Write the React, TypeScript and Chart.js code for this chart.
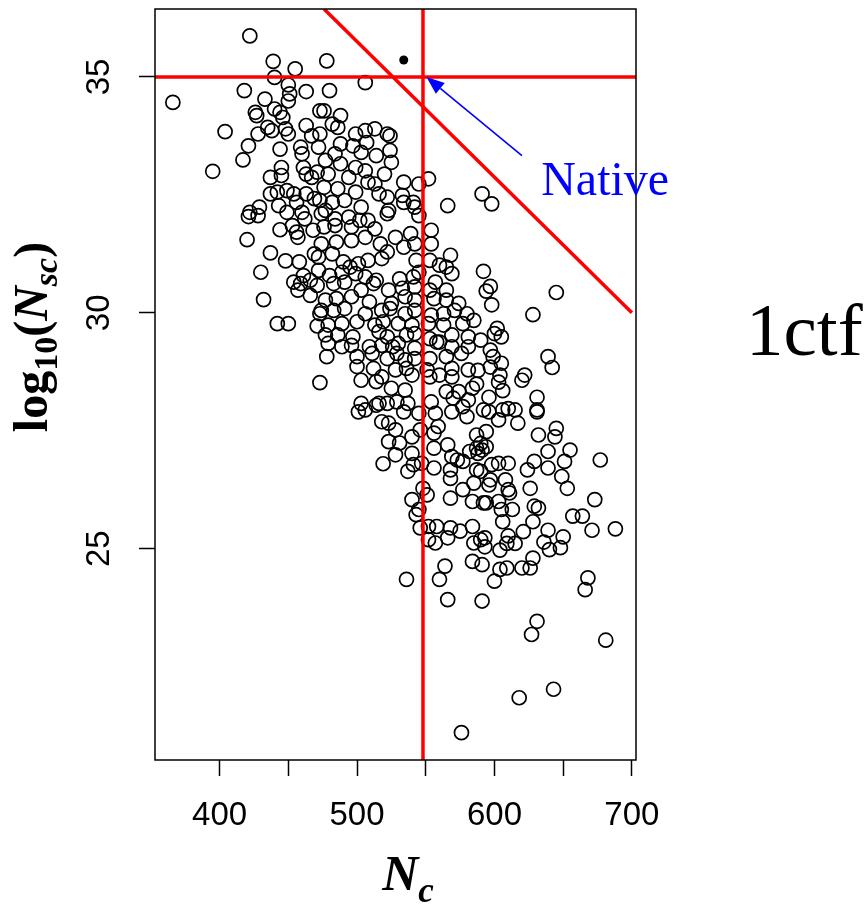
import React, { useEffect, useRef } from "react";
import { Chart, registerables } from "chart.js";

Chart.register(...registerables);

// Decoy structures: [Nc, log10(Nsc)]
const decoyPoints: [number, number][] = [
  [422,35.87],[439,35.33],[455,35.17],[440,34.99],[450,34.83],[418,34.71],[463,34.69],[366,34.46],[451,34.64],[450,34.49],
  [433,34.53],[426,34.25],[427,34.18],[440,34.32],[444,34.25],[446,34.14],[473,34.28],[404,33.84],[428,33.79],[435,33.93],
  [438,33.86],[448,33.90],[450,33.79],[463,33.97],[467,33.75],[421,33.54],[444,33.47],[459,33.51],[460,33.37],[417,33.24],
  [395,33.00],[437,32.87],[445,33.08],[445,32.91],[461,33.08],[463,32.94],[467,32.87],[437,32.52],[442,32.56],[449,32.59],
  [454,32.52],[456,32.34],[463,32.52],[469,32.42],[443,32.27],[429,32.24],[422,32.13],[460,32.13],[449,32.13],
  [478,35.34],[506,34.88],[480,34.71],[476,34.28],[488,34.18],[482,34.00],[486,33.93],[473,33.79],[499,33.79],[506,33.86],
  [513,33.90],[522,33.79],[524,33.75],[472,33.51],[488,33.58],[497,33.54],[507,33.61],[524,33.44],[503,33.40],[484,33.37],
  [477,33.23],[488,33.16],[514,33.33],[525,33.19],[499,33.08],[506,33.01],[520,32.94],[471,32.98],[479,32.94],[494,32.87],
  [508,32.77],[513,32.73],[534,32.77],[552,32.84],[545,32.73],[476,32.66],[486,32.63],[499,32.56],[516,32.52],[522,32.45],
  [533,32.49],[534,32.34],[541,32.34],[542,32.24],[566,32.27],[473,32.38],[482,32.34],[491,32.38],[503,32.24],[523,32.17],
  [477,32.17],[591,32.52],[598,32.31],
  [421,32.04],[428,32.06],[444,31.76],[453,31.85],[456,31.71],[457,31.60],[462,31.99],[468,31.75],[420,31.55],[437,31.27],
  [448,31.10],[458,31.08],[469,31.25],[430,30.86],[454,30.65],[459,30.62],[461,30.79],[466,30.69],[457,30.48],[466,30.37],
  [471,30.58],[472,30.90],[432,30.28],[442,29.77],[450,29.77],[471,29.72],[473,29.98],[473,28.52],
  [474,32.10],[484,31.99],[494,32.03],[502,31.96],[508,31.96],[522,32.10],[545,32.06],[476,31.82],[484,31.85],[496,31.82],
  [513,31.78],[528,31.60],[539,31.68],[554,31.75],[474,31.46],[485,31.50],[496,31.53],[506,31.60],[517,31.46],[534,31.39],
  [542,31.46],[554,31.46],[472,31.18],[482,31.25],[490,31.08],[495,30.97],[501,31.04],[508,31.11],[518,31.15],[522,31.29],
  [543,31.11],[553,31.11],[560,31.01],[568,31.22],[565,30.97],[480,30.79],[489,30.86],[499,30.83],[506,30.76],[514,30.69],
  [531,30.72],[541,30.76],[545,30.86],[557,30.65],[569,30.83],[483,30.62],[491,30.65],[503,30.48],[512,30.62],[523,30.48],
  [533,30.52],[542,30.55],[553,30.48],[565,30.48],[477,30.27],[485,30.30],[496,30.34],[509,30.23],[525,30.20],[535,30.34],
  [542,30.27],[556,30.30],[565,30.27],[574,30.20],[474,30.05],[483,30.05],[491,30.09],[506,29.98],[518,30.05],[524,30.09],
  [535,29.98],[542,30.05],[554,29.95],[563,29.98],[571,30.05],[580,29.98],[479,29.74],[489,29.77],[500,29.81],[513,29.74],
  [519,29.81],[530,29.77],[540,29.74],[552,29.77],[563,29.74],[577,29.77],[585,29.84],[477,29.53],[486,29.53],[497,29.49],
  [516,29.60],[522,29.49],[536,29.53],[542,29.56],[553,29.45],[558,29.38],[560,29.38],[569,29.53],[581,29.49],[479,29.35],
  [489,29.28],[496,29.31],[509,29.28],[518,29.31],[526,29.28],[530,29.35],[542,29.25],[569,29.28],[581,29.28],[478,29.07],
  [500,29.07],[511,29.14],[522,29.03],[529,29.14],[535,29.00],[542,29.03],[553,29.03],[565,29.07],[576,29.14],[500,28.86],
  [512,28.82],[518,28.64],[528,28.79],[536,28.82],[540,28.68],[551,28.79],[553,28.64],[560,28.68],[569,28.82],[569,28.64],
  [581,28.79],[503,28.57],[514,28.54],[525,28.40],[535,28.36],[565,28.33],[574,28.33],[584,28.40],[503,28.08],[516,28.08],
  [529,28.11],[537,28.08],[554,28.11],[570,28.19],[581,28.15],
  [592,30.88],[597,30.56],[594,30.46],[598,30.17],[645,30.43],[628,29.96],[602,29.67],[600,29.56],[605,29.49],[590,29.42],
  [597,29.21],[599,29.07],[605,28.93],[597,28.85],[604,28.68],[639,29.07],[642,28.84],[622,28.68],[620,28.57],[588,28.78],
  [587,28.49],[603,28.53],[606,28.35],[631,28.21],[596,28.21],
  [501,27.90],[506,27.94],[514,28.04],[522,28.08],[534,27.90],[545,27.87],[557,27.87],[569,27.90],[577,28.01],[580,27.80],
  [592,27.94],[518,27.69],[523,27.66],[528,27.52],[559,27.59],[546,27.52],[540,27.37],[556,27.45],[587,27.41],[523,27.27],
  [531,27.24],[540,27.02],[556,27.13],[566,27.20],[569,26.95],[573,26.88],[577,26.85],[582,27.06],[587,27.13],[591,27.09],
  [528,26.99],[519,26.80],[537,26.64],[541,26.78],[547,26.81],[556,26.71],[568,26.67],[568,26.49],[587,26.67],[577,26.25],
  [585,26.39],[548,26.28],[551,26.14],[568,26.07],[584,26.00],[592,25.97],[540,26.04],[545,25.83],[543,25.72],[546,25.44],
  [552,25.47],[558,25.47],[568,25.44],[575,25.37],[584,25.47],[552,25.19],[557,25.12],[566,25.23],[585,25.12],[590,25.19],
  [584,24.73],[564,24.63],[560,24.35],[536,24.35],
  [596,27.90],[603,27.73],[606,27.94],[610,27.97],[615,27.94],[617,27.66],[631,27.94],[631,27.90],[632,27.41],[644,27.37],
  [645,27.55],[594,27.48],[590,27.23],[594,27.16],[588,27.02],[639,27.06],[655,27.09],[629,26.85],[624,26.67],[639,26.71],
  [651,26.85],[649,26.53],[653,26.28],[677,26.88],[598,26.78],[603,26.81],[610,26.81],[590,26.64],[597,26.46],[596,26.35],
  [608,26.46],[610,26.25],[611,26.18],[626,26.28],[594,25.97],[603,26.00],[613,25.83],[605,25.83],[629,25.90],[632,25.86],
  [673,26.04],[657,25.69],[664,25.69],[606,25.57],[628,25.57],[621,25.36],[639,25.39],[650,25.25],[671,25.39],[688,25.42],
  [593,25.23],[610,25.27],[593,25.04],[604,24.97],[609,25.11],[615,25.11],[636,25.14],[640,24.98],[648,25.02],[628,24.80],
  [620,24.59],[626,24.59],[591,24.66],[604,24.56],[609,24.59],[600,24.31],[668,24.38],[666,24.13],
  [566,23.92],[591,23.89],[631,23.46],[627,23.18],[681,23.06],[643,22.02],[618,21.84],[576,21.10],
];

// Native structure and cut-off lines
const nativeNc = 534;
const nativeLogNsc = 35.36;
const cutoffNc = 548;
const cutoffLogNsc = 35;
const diagonalNc = [476, 700];
const diagonalLogNsc = [36.44, 30];
const arrowNc = [620, 550.5];
const arrowLogNsc = [33.33, 35.0];
const nativeLabelPos = [634, 32.49];

// Axes
const xRange = [353, 703];
const yRange = [20.52, 36.44];
const xTickValues = [400, 450, 500, 550, 600, 650, 700];
const xTickLabels = ["400", "", "500", "", "600", "", "700"];
const yTickValues = [25, 30, 35];
const yTickLabels = ["25", "30", "35"];

const SANS = '"Liberation Sans", Arial, Helvetica, sans-serif';
const SERIF = '"Liberation Serif", "Times New Roman", serif';

function drawRuns(ctx: CanvasRenderingContext2D, runs: { t: string; font: string; dy: number }[], measureOnly: boolean) {
  let w = 0;
  for (const r of runs) {
    ctx.font = r.font;
    if (!measureOnly) ctx.fillText(r.t, w, r.dy);
    w += ctx.measureText(r.t).width;
  }
  return w;
}

const annotPlugin = {
  id: "annot",
  afterDatasetsDraw(chart: any) {
    const { ctx, chartArea: a, scales } = chart;
    const x = scales.x;
    const y = scales.y;
    ctx.save();
    // plot box
    ctx.strokeStyle = "#000";
    ctx.lineWidth = 1.5;
    ctx.strokeRect(a.left, a.top, a.right - a.left, a.bottom - a.top);

    // blue arrow
    const x0 = x.getPixelForValue(arrowNc[0]);
    const y0 = y.getPixelForValue(arrowLogNsc[0]);
    const x1 = x.getPixelForValue(arrowNc[1]);
    const y1 = y.getPixelForValue(arrowLogNsc[1]);
    const ang = Math.atan2(y1 - y0, x1 - x0);
    const headLen = 18;
    const headW = 7;
    const bx = x1 - headLen * Math.cos(ang);
    const by = y1 - headLen * Math.sin(ang);
    ctx.strokeStyle = "#0000ff";
    ctx.fillStyle = "#0000ff";
    ctx.lineWidth = 1.6;
    ctx.beginPath();
    ctx.moveTo(x0, y0);
    ctx.lineTo(bx, by);
    ctx.stroke();
    ctx.beginPath();
    ctx.moveTo(x1, y1);
    ctx.lineTo(bx + headW * Math.sin(ang), by - headW * Math.cos(ang));
    ctx.lineTo(bx - headW * Math.sin(ang), by + headW * Math.cos(ang));
    ctx.closePath();
    ctx.fill();

    // Native label
    ctx.font = `48px ${SERIF}`;
    ctx.textAlign = "left";
    ctx.textBaseline = "alphabetic";
    ctx.fillText("Native", x.getPixelForValue(nativeLabelPos[0]), y.getPixelForValue(nativeLabelPos[1]));

    // y tick labels (rotated, R style)
    ctx.fillStyle = "#000";
    ctx.font = `33px ${SANS}`;
    ctx.textAlign = "center";
    yTickValues.forEach((v, i) => {
      ctx.save();
      ctx.translate(109, y.getPixelForValue(v));
      ctx.rotate(-Math.PI / 2);
      ctx.fillText(yTickLabels[i], 0, 0);
      ctx.restore();
    });

    // y title: log10(Nsc)
    ctx.textAlign = "left";
    const yRuns = [
      { t: "log", font: `bold 48px ${SERIF}`, dy: 0 },
      { t: "10", font: `bold 34px ${SERIF}`, dy: 10 },
      { t: "(", font: `bold 48px ${SERIF}`, dy: 0 },
      { t: "N", font: `italic bold 48px ${SERIF}`, dy: 0 },
      { t: "sc", font: `italic bold 34px ${SERIF}`, dy: 10 },
      { t: ")", font: `bold 48px ${SERIF}`, dy: 0 },
    ];
    const yw = drawRuns(ctx, yRuns, true);
    ctx.save();
    ctx.translate(47, 337 + yw / 2);
    ctx.rotate(-Math.PI / 2);
    drawRuns(ctx, yRuns, false);
    ctx.restore();

    // x title: Nc
    const xRuns = [
      { t: "N", font: `italic bold 50px ${SERIF}`, dy: 0 },
      { t: "c", font: `italic bold 35px ${SERIF}`, dy: 12 },
    ];
    const xw = drawRuns(ctx, xRuns, true);
    ctx.save();
    ctx.translate(408 - xw / 2, 890);
    drawRuns(ctx, xRuns, false);
    ctx.restore();

    // protein name
    ctx.font = `75px ${SERIF}`;
    ctx.fillText("1ctf", 746, 355);
    ctx.restore();
  },
};

export default function App() {
  const ref = useRef<HTMLCanvasElement | null>(null);
  useEffect(() => {
    if (!ref.current) return;
    const chart = new Chart(ref.current, {
      type: "scatter",
      data: {
        datasets: [
          {
            type: "line",
            data: [{ x: xRange[0], y: cutoffLogNsc }, { x: xRange[1], y: cutoffLogNsc }],
            borderColor: "#ff0000",
            borderWidth: 3.5,
            pointRadius: 0,
            fill: false,
            order: 0,
          } as any,
          {
            type: "line",
            data: [{ x: cutoffNc, y: yRange[0] }, { x: cutoffNc, y: yRange[1] }],
            borderColor: "#ff0000",
            borderWidth: 3.5,
            pointRadius: 0,
            fill: false,
            order: 0,
          } as any,
          {
            type: "line",
            data: [{ x: diagonalNc[0], y: diagonalLogNsc[0] }, { x: diagonalNc[1], y: diagonalLogNsc[1] }],
            borderColor: "#ff0000",
            borderWidth: 3.5,
            pointRadius: 0,
            fill: false,
            order: 0,
          } as any,
          {
            data: [{ x: nativeNc, y: nativeLogNsc }],
            backgroundColor: "#000",
            borderColor: "#000",
            pointRadius: 4.5,
            borderWidth: 0,
            order: 0,
          },
          {
            data: decoyPoints.map(([nc, l]) => ({ x: nc, y: l })),
            backgroundColor: "rgba(0,0,0,0)",
            borderColor: "#000",
            borderWidth: 1.7,
            pointRadius: 7,
            order: 1,
          },
        ],
      },
      options: {
        animation: false,
        responsive: false,
        devicePixelRatio: 1,
        layout: { padding: { left: 0, right: 230, top: 8, bottom: 0 } },
        plugins: { legend: { display: false }, tooltip: { enabled: false } },
        scales: {
          x: {
            type: "linear",
            min: xRange[0],
            max: xRange[1],
            afterFit: (s: any) => { s.height = 144; },
            afterBuildTicks: (s: any) => { s.ticks = xTickValues.map((v) => ({ value: v })); },
            ticks: {
              autoSkip: false,
              maxRotation: 0,
              minRotation: 0,
              color: "#000",
              padding: 20,
              font: { family: SANS, size: 33 },
              callback: (_v: any, i: number) => xTickLabels[i],
            },
            grid: { drawOnChartArea: false, drawTicks: true, tickLength: 16, tickWidth: 1.5, tickColor: "#000" },
            border: { display: false },
          },
          y: {
            type: "linear",
            min: yRange[0],
            max: yRange[1],
            afterFit: (s: any) => { s.width = 155; },
            afterBuildTicks: (s: any) => { s.ticks = yTickValues.map((v) => ({ value: v })); },
            ticks: { color: "#000", callback: () => "", font: { size: 10 } },
            grid: { drawOnChartArea: false, drawTicks: true, tickLength: 16, tickWidth: 1.5, tickColor: "#000" },
            border: { display: false },
          },
        },
      },
      plugins: [annotPlugin],
    });
    return () => chart.destroy();
  }, []);
  return (
    <div style={{ position: "fixed", left: 0, top: 0, width: 866, height: 904, background: "#fff" }}>
      <canvas ref={ref} width={866} height={904} style={{ width: 866, height: 904, display: "block" }} />
    </div>
  );
}
